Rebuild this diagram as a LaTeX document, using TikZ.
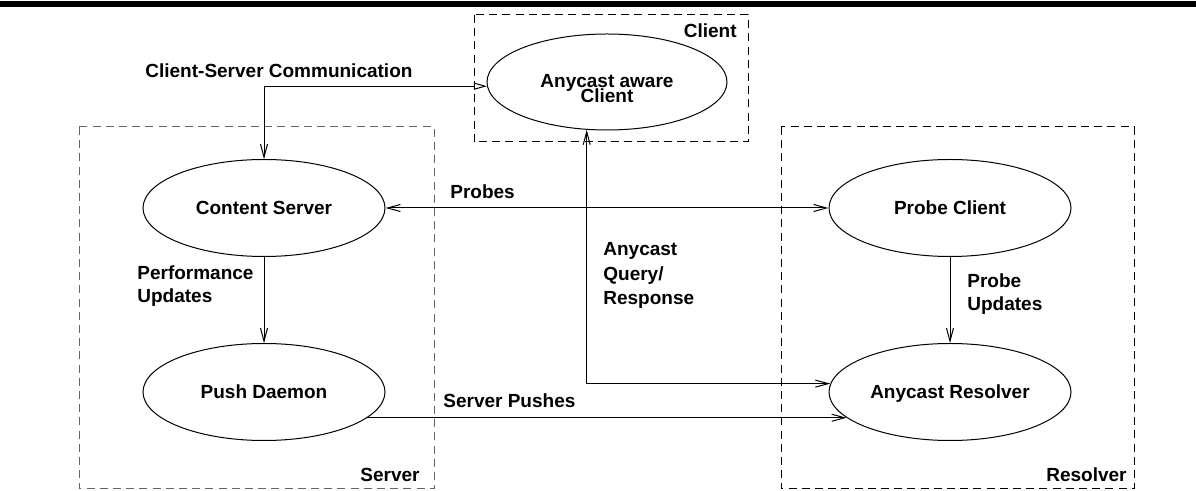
\documentclass[tikz,border=0pt]{standalone}
\usepackage{fontspec}
\setmainfont{Liberation Sans}
\usetikzlibrary{arrows.meta,shapes.geometric}
\begin{document}
\begin{tikzpicture}[x=0.5pt,y=-0.5pt,
  every node/.style={font=\fontsize{9.5}{12}\selectfont\bfseries},
  ell/.style={ellipse,draw,line width=0.5pt,inner sep=0pt,minimum width=121pt,minimum height=48.5pt,text height=6.8pt,text depth=0pt},
  lbl/.style={inner sep=0pt,anchor=base west},
  lblr/.style={inner sep=0pt,anchor=base east},
  lblc/.style={inner sep=0pt,anchor=base},
  grp/.style={line width=0.5pt,dash pattern=on 4pt off 2.6pt},
  barb/.tip={Straight Barb[length=6.5pt,width=3.5pt]},
  otri/.tip={Triangle[open,length=6.5pt,width=3.5pt]},
  conn/.style={line width=0.5pt,barb-barb},
  conn1/.style={line width=0.5pt,-barb}]
\useasboundingbox (0,0) rectangle (1196,491);
% top rule
\fill (0,1.5) rectangle (1196,7);
% group boxes
\draw[grp] (474,15) rectangle (748,142);
\draw[grp,black!60] (79,127) rectangle (434,489);
\draw[grp] (781,127) rectangle (1134,489);
\node[lblr] (lclient) at (737,38) {Client};
\node[lblr] (lserver) at (420,482) {Server};
\node[lblr] (lresolver) at (1127,482) {Resolver};
% ellipses
\node[ell] (cs) at (264,208) {Content Server};
\node[ell] (pd) at (264,392) {Push Daemon};
\node[ell] (pc) at (950,208) {Probe Client};
\node[ell] (ar) at (950,392) {Anycast Resolver};
\node[ell,minimum width=120pt,minimum height=48pt] (aac) at (607,82) {};
\node[lblc] (aac1) at (607,88) {Anycast aware};
\node[lblc] (aac2) at (607,103) {Client};
% connectors
\draw[line width=0.5pt,barb-otri] (cs.north) |- (aac.182);
\draw[conn] (cs.east) -- (pc.west);
\draw[conn] (aac.247) |- (ar.176);
\draw[conn1] (cs.south) -- (pd.north);
\draw[conn1] (pc.south) -- (ar.north);
\draw[conn1] (pd.346) -- (ar.194);
% labels
\node[lbl] (lcsc) at (145,78) {Client-Server Communication};
\node[lbl] (lprobes) at (450,199) {Probes};
\node[lbl] (lq1) at (603,256) {Anycast};
\node[lbl] (lq2) at (603,281) {Query/};
\node[lbl] (lq3) at (603,305) {Response};
\node[lbl] (lp1) at (137,280) {Performance};
\node[lbl] (lp2) at (137,303) {Updates};
\node[lbl] (lu1) at (967,288) {Probe};
\node[lbl] (lu2) at (967,311) {Updates};
\node[lbl] (lsp) at (443,408) {Server Pushes};
\end{tikzpicture}
\end{document}
